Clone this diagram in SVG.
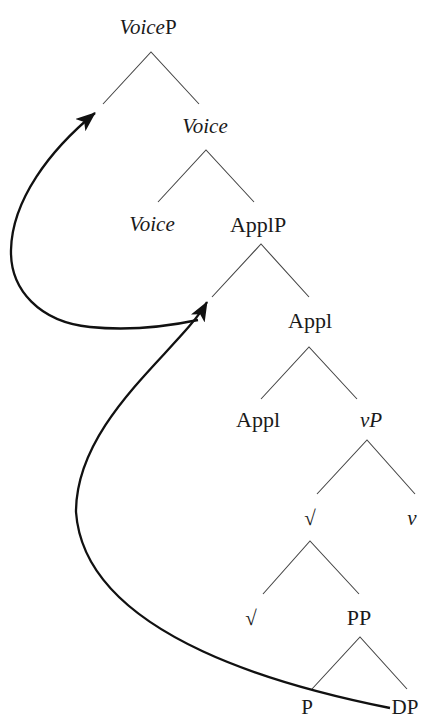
<svg xmlns="http://www.w3.org/2000/svg" width="423" height="720" viewBox="0 0 423 720">
<style>
.lbl{font-family:"Liberation Serif","Times New Roman",serif;font-size:21px;fill:#1a1a1a;text-anchor:middle}
.up{font-size:22px}
.it{font-style:italic}
.br{stroke:#444;stroke-width:1.1;fill:none}
.mv{stroke:#111;stroke-width:2.3;fill:none;marker-end:url(#head)}
</style>
<defs>
<marker id="head" markerUnits="userSpaceOnUse" viewBox="0 0 20 16" refX="19" refY="8" markerWidth="20" markerHeight="16" orient="auto">
<path d="M0,0 L20,8 L0,16 L5,8 Z" fill="#111"/>
</marker>
</defs>
<rect width="423" height="720" fill="#fff"/>
<g id="VoiceP"><text class="lbl" x="148" y="34"><tspan class="it">Voice</tspan>P</text><path class="br" d="M103,104 L151,52 L199,104"/></g>
<g id="VoiceBar"><text class="lbl it" x="205" y="133">Voice</text><path class="br" d="M158,202 L206,150 L254,202"/></g>
<g id="Voice"><text class="lbl it" x="152" y="231">Voice</text></g>
<g id="ApplP"><text class="lbl up" x="258" y="232">ApplP</text><path class="br" d="M212,297 L261,244 L309,297"/></g>
<g id="ApplBar"><text class="lbl up" x="310" y="328">Appl</text><path class="br" d="M261,399 L309,347 L357,399"/></g>
<g id="Appl"><text class="lbl up" x="258" y="427">Appl</text></g>
<g id="vP"><text class="lbl it" x="371" y="427">vP</text><path class="br" d="M317,494 L367,440 L415,494"/></g>
<g id="RootBar"><text class="lbl" x="310" y="525">√</text><path class="br" d="M263,594 L310,541 L359,594"/></g>
<g id="v"><text class="lbl it" x="412" y="525">v</text></g>
<g id="Root"><text class="lbl" x="251" y="625">√</text></g>
<g id="PP"><text class="lbl up" x="359" y="625">PP</text><path class="br" d="M312,689 L360,637 L407,689"/></g>
<g id="P"><text class="lbl" x="307" y="714">P</text></g>
<g id="DP"><text class="lbl" x="405" y="714">DP</text></g>
<g id="connectors">
<path class="mv" d="M390,708 C300,690 85,640 76,512 C76,420 180,350 207,302"/>
<path class="mv" d="M198,320 C160,328 120,330 90,327 C40,322 10,290 11,250 C12,200 50,150 95,113"/>
</g>
</svg>
